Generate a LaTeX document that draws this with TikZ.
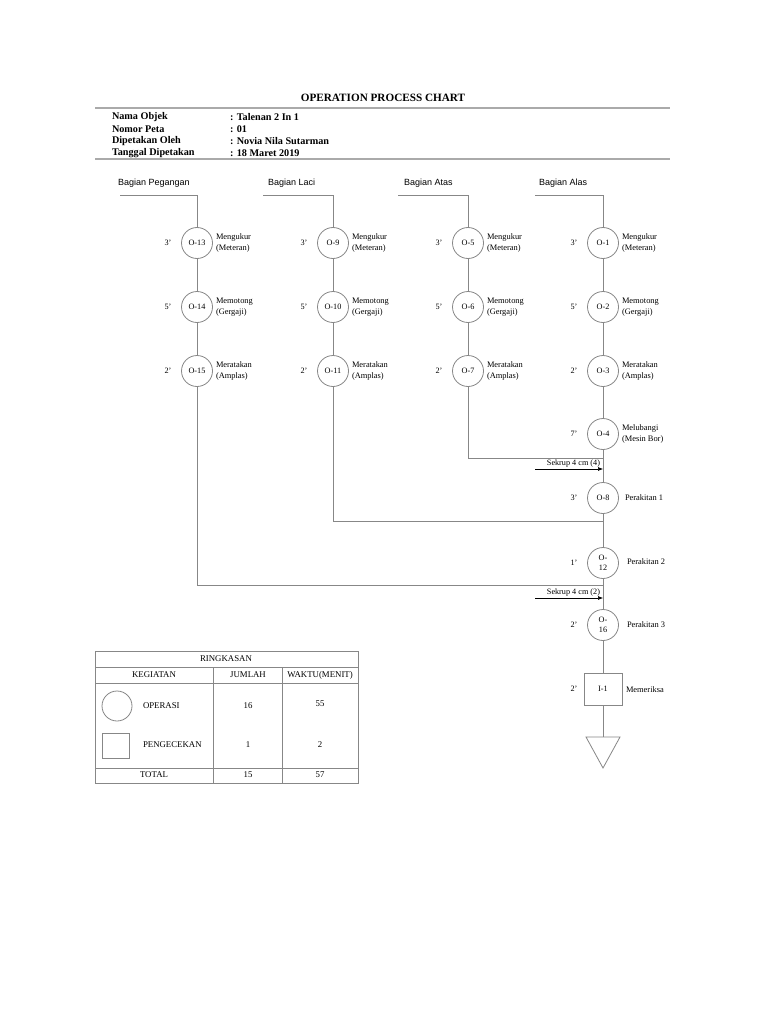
\documentclass[tikz,border=0pt]{standalone}
\usepackage{fontspec}
\setmainfont{Liberation Serif}
\newfontfamily\arialf{Liberation Sans}
\usetikzlibrary{arrows.meta}
\definecolor{ln}{RGB}{135,135,135}
\definecolor{hl}{RGB}{170,170,170}
\begin{document}
\begin{tikzpicture}[x=1pt,y=-1pt,
  every node/.style={inner sep=0pt,outer sep=0pt},
  conn/.style={draw=ln,line width=0.8pt},
  op/.style={circle,draw=ln,line width=0.8pt,minimum size=31pt,font=\fontsize{8.2}{10.5}\selectfont,align=center},
  insp/.style={rectangle,draw=ln,line width=0.8pt,minimum width=38pt,minimum height=32pt,font=\fontsize{8.2}{9}\selectfont},
  tm/.style={font=\fontsize{8.2}{9}\selectfont},
  desc/.style={anchor=west,align=left,font=\fontsize{8.4}{10.5}\selectfont},
  hdr/.style={anchor=west,font=\bfseries\fontsize{10.2}{11}\selectfont},
  part/.style={anchor=west,font=\arialf\fontsize{9}{10}\selectfont},
  tb/.style={font=\fontsize{8.8}{10}\selectfont},
  sk/.style={anchor=south east,font=\fontsize{8.2}{9}\selectfont}
]
\useasboundingbox (0,0) rectangle (768,1024);
\fill[white] (0,0) rectangle (768,1024);

% title and header
\node[font=\bfseries\fontsize{11.2}{12}\selectfont] (title) at (383,98) {OPERATION PROCESS CHART};
\coordinate (l1a) at (95,108); \coordinate (l1b) at (670,108);
\coordinate (l2a) at (95,159); \coordinate (l2b) at (670,159);
\draw[hl,line width=1.6pt] (l1a) -- (l1b);
\draw[hl,line width=1.6pt] (l2a) -- (l2b);
\node[hdr] (k1) at (112,117) {Nama Objek};
\node[hdr] (k2) at (112,129) {Nomor Peta};
\node[hdr] (k3) at (112,141) {Dipetakan Oleh};
\node[hdr] (k4) at (112,153) {Tanggal Dipetakan};
\node[hdr] (v1) at (230,117) {: Talenan 2 In 1};
\node[hdr] (v2) at (230,129) {: 01};
\node[hdr] (v3) at (230,141) {: Novia Nila Sutarman};
\node[hdr] (v4) at (230,153) {: 18 Maret 2019};

% part labels
\node[part] (p1) at (118,183) {Bagian Pegangan};
\node[part] (p2) at (268,183) {Bagian Laci};
\node[part] (p3) at (404,183) {Bagian Atas};
\node[part] (p4) at (539,183) {Bagian Alas};
\coordinate (h1) at (120,195);
\coordinate (h2) at (263,195);
\coordinate (h3) at (398,195);
\coordinate (h4) at (535,195);

% operations
\node[op] (o13) at (197,243) {O-13};
\node[op] (o14) at (197,307) {O-14};
\node[op] (o15) at (197,371) {O-15};
\node[op] (o9) at (333,243) {O-9};
\node[op] (o10) at (333,307) {O-10};
\node[op] (o11) at (333,371) {O-11};
\node[op] (o5) at (468,243) {O-5};
\node[op] (o6) at (468,307) {O-6};
\node[op] (o7) at (468,371) {O-7};
\node[op] (o1) at (603,243) {O-1};
\node[op] (o2) at (603,307) {O-2};
\node[op] (o3) at (603,371) {O-3};
\node[op] (o4) at (603,434) {O-4};
\node[op] (o8) at (603,498) {O-8};
\node[op] (o12) at (603,563) {O-\\12};
\node[op] (o16) at (603,625) {O-\\16};
\node[insp] (i1) at (603,689) {I-1};
\coordinate (tA) at (586,737);
\coordinate (tB) at (620,737);
\coordinate (tC) at (603,768);
\coordinate (tT) at (603,737);
\draw[conn] (tA) -- (tB) -- (tC) -- cycle;

% times
\foreach \x in {197,333,468,603}{
  \node[tm] at (\x-29,243) {3'};
  \node[tm] at (\x-29,307) {5'};
  \node[tm] at (\x-29,371) {2'};
}
\node[tm] (t4) at (574,434) {7'};
\node[tm] (t8) at (574,498) {3'};
\node[tm] (t12) at (574,563) {1'};
\node[tm] (t16) at (574,625) {2'};
\node[tm] (ti1) at (574,689) {2'};

% descriptions
\foreach \x in {197,333,468,603}{
  \node[desc] at (\x+19,243) {Mengukur\\(Meteran)};
  \node[desc] at (\x+19,307) {Memotong\\(Gergaji)};
  \node[desc] at (\x+19,371) {Meratakan\\(Amplas)};
}
\node[desc] (d4) at (622,434) {Melubangi\\(Mesin Bor)};
\node[desc] (d8) at (625,498) {Perakitan 1};
\node[desc] (d12) at (627,562) {Perakitan 2};
\node[desc] (d16) at (627,625) {Perakitan 3};
\node[desc] (di1) at (626,690) {Memeriksa};

% connectors within columns
\draw[conn] (h1) -| (o13.north);
\draw[conn] (h2) -| (o9.north);
\draw[conn] (h3) -| (o5.north);
\draw[conn] (h4) -| (o1.north);
\draw[conn] (o13) -- (o14); \draw[conn] (o14) -- (o15);
\draw[conn] (o9) -- (o10); \draw[conn] (o10) -- (o11);
\draw[conn] (o5) -- (o6); \draw[conn] (o6) -- (o7);
\draw[conn] (o1) -- (o2); \draw[conn] (o2) -- (o3); \draw[conn] (o3) -- (o4);
\draw[conn] (o4) -- (o8); \draw[conn] (o8) -- (o12); \draw[conn] (o12) -- (o16);
\draw[conn] (o16) -- (i1); \draw[conn] (i1) -- (tT);

% joins
\coordinate (j1) at (603,458);
\coordinate (j2) at (603,521);
\coordinate (j3) at (603,585);
\draw[conn] (o7.south) |- (j1);
\draw[conn] (o11.south) |- (j2);
\draw[conn] (o15.south) |- (j3);

% material inputs
\coordinate (s1a) at (535,469); \coordinate (s1b) at (603,469);
\coordinate (s2a) at (535,598); \coordinate (s2b) at (603,598);
\draw[line width=0.6pt,-{Latex[length=5pt,width=4pt]}] (s1a) -- (s1b);
\draw[line width=0.6pt,-{Latex[length=5pt,width=4pt]}] (s2a) -- (s2b);
\node[sk] (sk1) at (600,467.5) {Sekrup 4 cm (4)};
\node[sk] (sk2) at (600,596.5) {Sekrup 4 cm (2)};

% summary table
\draw[conn] (95,651) rectangle (358,783);
\draw[conn] (95,667) -- (358,667);
\draw[conn] (95,683) -- (358,683);
\draw[conn] (95,768) -- (358,768);
\draw[conn] (213,667) -- (213,783);
\draw[conn] (282,667) -- (282,783);
\node[tb] (r0) at (226,659) {RINGKASAN};
\node[tb] (r1) at (154,675) {KEGIATAN};
\node[tb] (r2) at (248,675) {JUMLAH};
\node[tb] (r3) at (320,675) {WAKTU(MENIT)};
\node[circle,draw=ln,line width=0.8pt,minimum size=30pt] (sc) at (117,706) {};
\node[rectangle,draw=ln,line width=0.8pt,minimum width=27pt,minimum height=25pt] (sq) at (115.5,745.5) {};
\node[tb,anchor=west] (a1) at (143,706) {OPERASI};
\node[tb] (a2) at (248,706) {16};
\node[tb] (a3) at (320,704) {55};
\node[tb,anchor=west] (b1) at (143,745) {PENGECEKAN};
\node[tb] (b2) at (248,745) {1};
\node[tb] (b3) at (320,745) {2};
\node[tb] (c1) at (154,775) {TOTAL};
\node[tb] (c2) at (248,775) {15};
\node[tb] (c3) at (320,775) {57};
\end{tikzpicture}
\end{document}
